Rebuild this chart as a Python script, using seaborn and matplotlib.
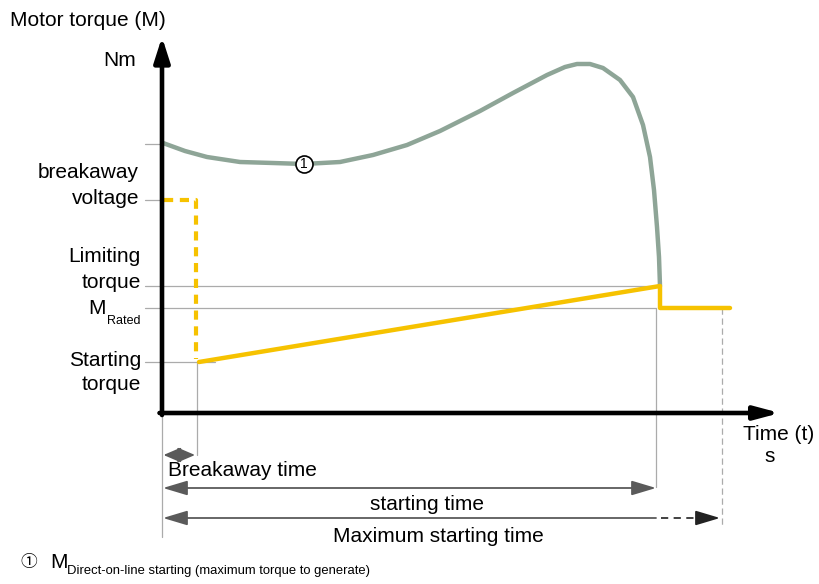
import matplotlib
matplotlib.use("Agg")
import matplotlib.pyplot as plt
import seaborn as sns
import numpy as np

sns.set_theme(style="white")
plt.rcParams['font.family'] = ['Liberation Sans', 'Noto Sans CJK SC', 'DejaVu Sans']
plt.rcParams['text.color'] = 'black'

# ---- data (time in s-units, torque in Nm-units, arbitrary scale) ----
t_breakaway = 0.70
t_starting = 9.88
t_max_starting = 11.20
t_rated_end = 11.36
M_starting = 1.02
M_rated = 2.10
M_limiting = 2.54
M_breakaway_voltage = 4.26
M_dol_start = 5.38

curve_t = [0.02, 0.46, 0.90, 1.56, 2.22, 2.84, 3.56, 4.22, 4.90, 5.56, 6.36, 7.02,
           7.70, 8.06, 8.30, 8.56, 8.82, 9.16, 9.42, 9.62, 9.76, 9.84, 9.90, 9.94, 9.96]
curve_M = [5.40, 5.24, 5.12, 5.02, 5.00, 4.98, 5.02, 5.16, 5.36, 5.64, 6.04, 6.40,
           6.76, 6.92, 6.98, 6.98, 6.90, 6.66, 6.32, 5.76, 5.12, 4.46, 3.72, 3.12, 2.54]

GREEN = "#8EA597"
YELLOW = "#F6C200"
GRAY = "#ABABAB"
DARK = "#5A5A5A"
FS = 15

fig = plt.figure(figsize=(8.19, 5.84), dpi=100)
ax = fig.add_axes([0, 0, 1, 1])
ax.set_xlim(-3.24, 13.14)
ax.set_ylim(-3.42, 8.26)
ax.axis("off")

# reference gray lines
for m, t_end in [(M_dol_start, 0), (M_breakaway_voltage, 0), (M_limiting, t_starting),
                 (M_rated, t_starting), (M_starting, 1.06)]:
    ax.plot([-0.34, t_end], [m, m], color=GRAY, lw=0.9, zorder=1)
ax.plot([0, 0], [0, -2.48], color=GRAY, lw=0.9, zorder=1)
ax.plot([t_breakaway, t_breakaway], [M_starting, -0.84], color=GRAY, lw=0.9, zorder=1)
ax.plot([t_starting, t_starting], [M_rated, -1.48], color=GRAY, lw=0.9, zorder=1)
ax.plot([t_max_starting, t_max_starting], [M_rated, -2.24], color=GRAY, lw=0.9,
        ls=(0, (5, 3)), zorder=1)

# DOL curve
sns.lineplot(x=curve_t, y=curve_M, sort=False, estimator=None, color=GREEN, lw=3.2,
             ax=ax, zorder=3)

# yellow soft-start torque
sns.lineplot(x=[0.04, t_breakaway - 0.02, t_breakaway - 0.02],
             y=[M_breakaway_voltage, M_breakaway_voltage, M_starting + 0.06],
             sort=False, estimator=None, color=YELLOW, lw=3.0, ax=ax, zorder=4,
             linestyle=(0, (2.2, 1.6)))
sns.lineplot(x=[t_breakaway + 0.04, curve_t[-1], curve_t[-1], t_rated_end],
             y=[M_starting, M_limiting, M_rated, M_rated],
             sort=False, estimator=None, color=YELLOW, lw=3.2, ax=ax, zorder=4)

# axes arrows
ax.annotate("", xy=(0, 7.52), xytext=(0, -0.04),
            arrowprops=dict(arrowstyle="-|>,head_length=0.75,head_width=0.24",
                            mutation_scale=20, lw=3.3, color="black",
                            shrinkA=0, shrinkB=0), zorder=5)
ax.annotate("", xy=(12.36, 0), xytext=(-0.05, 0),
            arrowprops=dict(arrowstyle="-|>,head_length=0.75,head_width=0.2",
                            mutation_scale=20, lw=3.3, color="black",
                            shrinkA=0, shrinkB=0), zorder=5)

# circled marker on curve
ax.scatter([2.84], [4.98], s=150, facecolor="white", edgecolor="black", lw=1.2, zorder=6)
ax.text(2.84, 4.98, "1", ha="center", va="center", fontsize=10, zorder=7)

# time arrows
ah = dict(mutation_scale=10, lw=1.3, color=DARK, shrinkA=0, shrinkB=0)
ax.annotate("", xy=(t_breakaway - 0.04, -0.84), xytext=(0.03, -0.84),
            arrowprops=dict(arrowstyle="<|-|>,head_length=1.05,head_width=0.45", **ah))
ax.annotate("", xy=(t_starting, -1.50), xytext=(0.02, -1.50),
            arrowprops=dict(arrowstyle="<|-|>,head_length=1.5,head_width=0.45", **ah))
ax.annotate("", xy=(0.02, -2.10), xytext=(t_starting, -2.10),
            arrowprops=dict(arrowstyle="-|>,head_length=1.5,head_width=0.45", **ah))
ax.plot([t_starting + 0.1, t_max_starting - 0.3], [-2.10, -2.10], color="#333333",
        lw=1.3, ls=(0, (4, 3)))
ax.annotate("", xy=(t_max_starting - 0.04, -2.10), xytext=(t_max_starting - 0.35, -2.10),
            arrowprops=dict(arrowstyle="-|>,head_length=1.5,head_width=0.45",
                            mutation_scale=10, lw=1.3, color="#222222",
                            shrinkA=0, shrinkB=0))

# texts
ax.text(-3.04, 7.86, "Motor torque (M)", ha="left", va="center", fontsize=FS)
ax.text(-1.18, 7.06, "Nm", ha="left", va="center", fontsize=FS)
ax.text(-0.46, 4.82, "breakaway", ha="right", va="center", fontsize=FS)
ax.text(-0.46, 4.28, "voltage", ha="right", va="center", fontsize=FS)
ax.text(-0.42, 3.12, "Limiting", ha="right", va="center", fontsize=FS)
ax.text(-0.42, 2.60, "torque", ha="right", va="center", fontsize=FS)
ax.text(-1.12, 2.10, "M", ha="right", va="center", fontsize=FS)
ax.text(-1.10, 1.84, "Rated", ha="left", va="center", fontsize=9)
ax.text(-0.42, 1.06, "Starting", ha="right", va="center", fontsize=FS)
ax.text(-0.42, 0.56, "torque", ha="right", va="center", fontsize=FS)
ax.text(11.62, -0.42, "Time (t)", ha="left", va="center", fontsize=FS)
ax.text(12.16, -0.86, "s", ha="center", va="center", fontsize=FS)
ax.text(0.12, -1.14, "Breakaway time", ha="left", va="center", fontsize=FS)
ax.text(5.30, -1.82, "starting time", ha="center", va="center", fontsize=FS)
ax.text(5.52, -2.48, "Maximum starting time", ha="center", va="center", fontsize=FS)
ax.text(-2.66, -3.00, "\u2460", ha="center", va="center", fontsize=12)
ax.text(-2.24, -2.98, "M", ha="left", va="center", fontsize=FS)
ax.text(-1.90, -3.16, "Direct-on-line starting (maximum torque to generate)",
        ha="left", va="center", fontsize=9.4)

fig.savefig("out.png", dpi=100)
